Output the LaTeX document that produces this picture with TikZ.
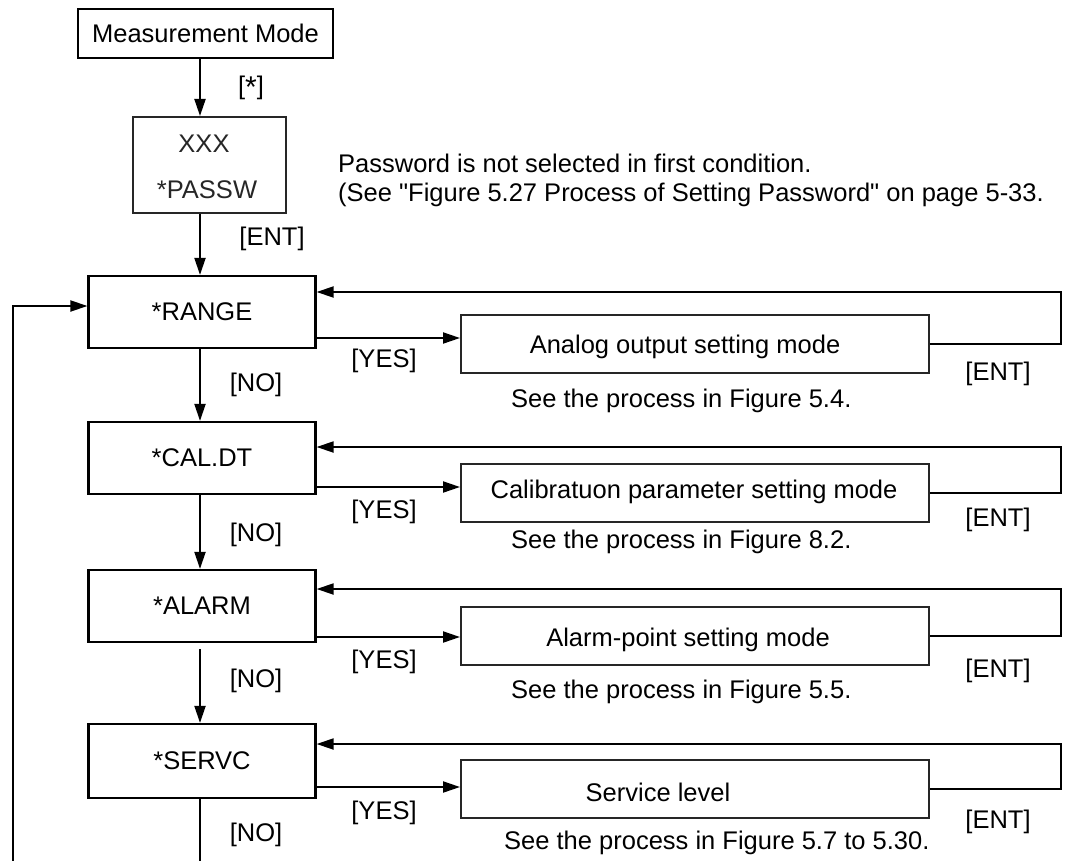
\documentclass[tikz,border=0pt]{standalone}
\usepackage{fontspec}
\setmainfont{Liberation Sans}[Ligatures=TeXOff]
\usetikzlibrary{arrows.meta}
\begin{document}
\begin{tikzpicture}[x=1pt,y=-1pt,
  every node/.style={font=\fontsize{25.5}{30}\selectfont, inner sep=0pt},
  lbox/.style={draw, line width=2.2pt, minimum width=227pt, minimum height=72pt},
  rbox/.style={draw=black!85, line width=2pt, minimum width=468pt, minimum height=58pt},
  conn/.style={line width=2pt},
  arr/.style={conn, -{Triangle[length=17pt,width=11pt]}}]
\useasboundingbox (0,0) rectangle (1067,861);
% helper coordinates
\coordinate (ax) at (200,0);
\coordinate (rx) at (1061,0);
% top part
\node[draw, line width=2.2pt, minimum width=255pt, minimum height=49pt] (mm) at (205.5,33.5) {Measurement Mode};
\node[draw=black!85, line width=2pt, minimum width=153pt, minimum height=96pt] (pw) at (209.5,165) {};
\node[text=black!85] (pwa) at (204,144) {XXX};
\node[text=black!85] (pwb) at (207,190) {*PASSW};
\node (lstar) at (251,88) {[\raisebox{-0.12em}{\fontsize{30}{30}\selectfont *}]};
\node (lent0) at (272,239) {[ENT]};
\node[anchor=base west] (note1) at (338,173) {Password is not selected in first condition.};
\node[anchor=base west] (note2) at (338,201) {(See "Figure 5.27 Process of Setting Password" on page 5-33.};
% left boxes
\node[lbox] (r1) at (202,312) {*RANGE};
\node[lbox] (r2) at (202,458) {*CAL.DT};
\node[lbox] (r3) at (202,606) {*ALARM};
\node[lbox, minimum height=74pt] (r4) at (202,761) {*SERVC};
% right boxes
\node[rbox] (b1) at (695,344) {};
\node[rbox] (b2) at (695,492.5) {};
\node[rbox] (b3) at (695,636) {};
\node[rbox] (b4) at (695,788.5) {};
\node (t1) at (685,347) {Analog output setting mode};
\node (t2) at (694,492) {Calibratuon parameter setting mode};
\node (t3) at (688,640) {Alarm-point setting mode};
\node (t4) at (658,792) {Service level};
% see texts
\node[anchor=west] (s1) at (511,401) {See the process in Figure 5.4.};
\node[anchor=west] (s2) at (511,542) {See the process in Figure 8.2.};
\node[anchor=west] (s3) at (511,692) {See the process in Figure 5.5.};
\node[anchor=west] (s4) at (504,843) {See the process in Figure 5.7 to 5.30.};
% labels
\node (y1) at (384,361) {[YES]};
\node (y2) at (384,512) {[YES]};
\node (y3) at (384,662) {[YES]};
\node (y4) at (384,813) {[YES]};
\node (n1) at (256,385) {[NO]};
\node (n2) at (256,535) {[NO]};
\node (n3) at (256,681) {[NO]};
\node (n4) at (256,835) {[NO]};
\node (e1) at (998,374) {[ENT]};
\node (e2) at (998,520) {[ENT]};
\node (e3) at (998,671) {[ENT]};
\node (e4) at (998,822) {[ENT]};
% y levels
\coordinate (fb1) at (0,292); \coordinate (ys1) at (0,338);
\coordinate (fb2) at (0,447); \coordinate (ys2) at (0,487);
\coordinate (fb3) at (0,589); \coordinate (ys3) at (0,637);
\coordinate (fb4) at (0,744); \coordinate (ys4) at (0,787);
\coordinate (le) at (0,306);
\coordinate (lb) at (12.5,861);
\coordinate (g3) at (200,649);
\coordinate (bot) at (200,861);
% vertical flow
\draw[arr] (ax |- mm.south) -- (ax |- pw.north);
\draw[arr] (ax |- pw.south) -- (ax |- r1.north);
\draw[arr] (ax |- r1.south) -- (ax |- r2.north);
\draw[arr] (ax |- r2.south) -- (ax |- r3.north);
\draw[arr] (g3) -- (ax |- r4.north);
\draw[conn] (ax |- r4.south) -- (bot);
% yes arrows
\draw[arr] (r1.east |- ys1) -- (b1.west |- ys1);
\draw[arr] (r2.east |- ys2) -- (b2.west |- ys2);
\draw[arr] (r3.east |- ys3) -- (b3.west |- ys3);
\draw[arr] (r4.east |- ys4) -- (b4.west |- ys4);
% return loops
\draw[arr] (b1.east) -- (rx |- b1.east) |- (r1.east |- fb1);
\draw[arr] (b2.east) -- (rx |- b2.east) |- (r2.east |- fb2);
\draw[arr] (b3.east) -- (rx |- b3.east) |- (r3.east |- fb3);
\draw[arr] (b4.east) -- (rx |- b4.east) |- (r4.east |- fb4);
% left loop
\draw[arr] (lb) |- (r1.west |- le);
\end{tikzpicture}
\end{document}
